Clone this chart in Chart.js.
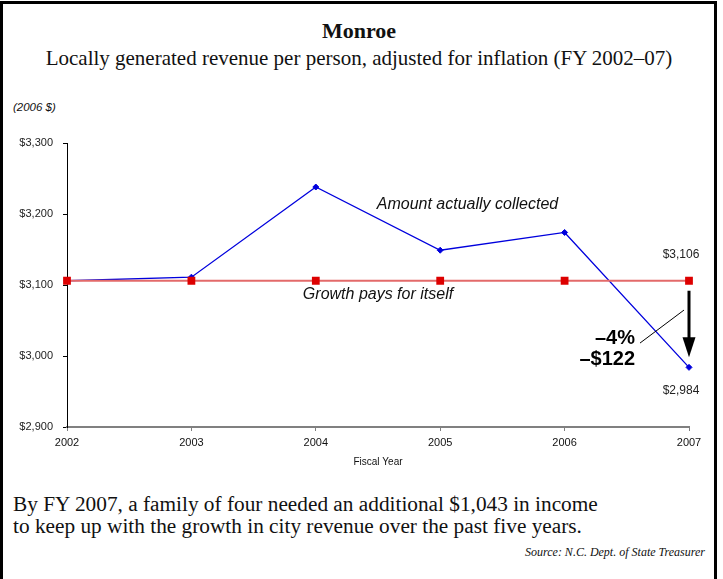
<!DOCTYPE html>
<html>
<head>
<meta charset="utf-8">
<script src="https://cdn.jsdelivr.net/npm/chart.js@4"></script>
<style>
  body { margin: 0; width: 723px; height: 579px; overflow: hidden; background: #fff; position: relative; }
  .frame { position: absolute; left: 0; top: 1px; width: 711px; height: 620px; border: 3px solid #000; }
  .txt { position: absolute; white-space: nowrap; color: #111; }
  .serif { font-family: "Liberation Serif", "Times New Roman", serif; }
  #chart { position: absolute; left: 0; top: 0; }
</style>
</head>
<body>
<div class="frame"></div>
<div class="txt serif" style="left:0;width:718px;text-align:center;top:18px;line-height:26px;font-size:22px;font-weight:bold;">Monroe</div>
<div class="txt serif" style="left:0;width:718px;text-align:center;top:45px;line-height:26px;font-size:21px;">Locally generated revenue per person, adjusted for inflation (FY 2002–07)</div>
<div class="txt" style="left:13px;top:100px;line-height:14px;font-size:11.5px;font-style:italic;font-family:'Liberation Sans',Arial,sans-serif;">(2006 $)</div>
<div class="txt serif" style="left:13px;top:494px;line-height:21.5px;font-size:21.3px;">By FY 2007, a family of four needed an additional $1,043 in income<br>to keep up with the growth in city revenue over the past five years.</div>
<div class="txt serif" style="right:18px;top:544px;line-height:16px;font-size:12px;font-style:italic;">Source: N.C. Dept. of State Treasurer</div>
<canvas id="chart" width="723" height="579"></canvas>
<script>
const years = ['2002', '2003', '2004', '2005', '2006', '2007'];
const collected = [3106, 3111, 3238, 3149, 3174, 2984];
const growthPays = [3106, 3106, 3106, 3106, 3106, 3106];
const yTicks = [2900, 3000, 3100, 3200, 3300];

const sans = "'Liberation Sans', Arial, sans-serif";

function money(v) {
    return '$' + Math.abs(v).toLocaleString('en-US');
}

// labels, arrow and the -4% callout, all placed off the scales
const notes = {
    id: 'notes',
    afterDatasetsDraw(chart) {
        const ctx = chart.ctx;
        const xs = chart.scales.x, ys = chart.scales.y;
        const last = years.length - 1;
        const xl = xs.getPixelForValue(last);
        const yTop = ys.getPixelForValue(growthPays[last]);
        const yBot = ys.getPixelForValue(collected[last]);
        ctx.save();
        ctx.fillStyle = '#111';
        ctx.textBaseline = 'middle';

        ctx.font = 'italic 16px ' + sans;
        ctx.textAlign = 'left';
        ctx.fillText('Amount actually collected', xs.getPixelForValue(2.49), ys.getPixelForValue(3213));
        ctx.textAlign = 'center';
        ctx.fillText('Growth pays for itself', xs.getPixelForValue(2.5), ys.getPixelForValue(3086));

        ctx.font = '12px ' + sans;
        ctx.fillStyle = '#222';
        ctx.fillText(money(growthPays[last]), xl - 8, yTop - 26);
        ctx.fillText(money(collected[last]), xl - 8, yBot + 23);

        // arrow
        ctx.strokeStyle = '#000';
        ctx.fillStyle = '#000';
        ctx.lineWidth = 3;
        ctx.beginPath();
        ctx.moveTo(xl, yTop + 10);
        ctx.lineTo(xl, yBot - 26);
        ctx.stroke();
        ctx.beginPath();
        ctx.moveTo(xl - 6.5, yBot - 30);
        ctx.lineTo(xl + 6.5, yBot - 30);
        ctx.lineTo(xl, yBot - 10);
        ctx.closePath();
        ctx.fill();

        const mid = (yTop + yBot) / 2;
        ctx.lineWidth = 1;
        ctx.beginPath();
        ctx.moveTo(xl - 49, mid + 19);
        ctx.lineTo(xl - 5, mid - 14);
        ctx.stroke();

        const diff = collected[last] - growthPays[last];
        const pct = Math.round(diff / growthPays[last] * 100);
        ctx.font = 'bold 20px ' + sans;
        ctx.textAlign = 'right';
        ctx.fillText('\u2013' + Math.abs(pct) + '%', xl - 54, mid + 14);
        ctx.fillText('\u2013' + money(diff), xl - 54, mid + 35);
        ctx.restore();
    }
};

new Chart(document.getElementById('chart'), {
    type: 'line',
    data: {
        labels: years,
        datasets: [{
            label: 'Growth pays for itself',
            data: growthPays,
            borderColor: '#e36a6a',
            borderWidth: 2,
            pointStyle: 'rect',
            pointRadius: 5.5,
            pointBackgroundColor: '#dd0000',
            pointBorderColor: '#dd0000',
            pointBorderWidth: 0
        }, {
            label: 'Amount actually collected',
            data: collected,
            borderColor: '#0000dd',
            borderWidth: 1.3,
            pointStyle: 'rectRot',
            pointRadius: 3,
            pointBackgroundColor: '#0000dd',
            pointBorderColor: '#0000dd',
            pointBorderWidth: 1
        }]
    },
    options: {
        responsive: false,
        animation: false,
        events: [],
        layout: { padding: { left: 0, right: 34, top: 143, bottom: 107 } },
        plugins: { legend: { display: false }, tooltip: { enabled: false } },
        scales: {
            x: {
                offset: false,
                afterFit(s) { s.height = 45; },
                grid: { drawOnChartArea: false, tickLength: 4, color: '#808080', lineWidth: 1 },
                border: { display: true, color: '#808080', width: 2 },
                ticks: { color: '#111', font: { family: sans, size: 11 }, padding: 5, maxRotation: 0 },
                title: { display: true, text: 'Fiscal Year', color: '#111', font: { family: sans, size: 10 }, padding: { top: 0, bottom: 4 } }
            },
            y: {
                min: yTicks[0],
                max: yTicks[yTicks.length - 1],
                afterFit(s) { s.width = 67; },
                afterBuildTicks(s) { s.ticks = yTicks.map(v => ({ value: v })); },
                grid: { drawOnChartArea: false, tickLength: 4, color: '#000' },
                border: { display: true, color: '#000', width: 1 },
                ticks: { color: '#222', font: { family: sans, size: 11 }, padding: 10, callback: v => money(v) }
            }
        }
    },
    plugins: [notes]
});
</script>
</body>
</html>
